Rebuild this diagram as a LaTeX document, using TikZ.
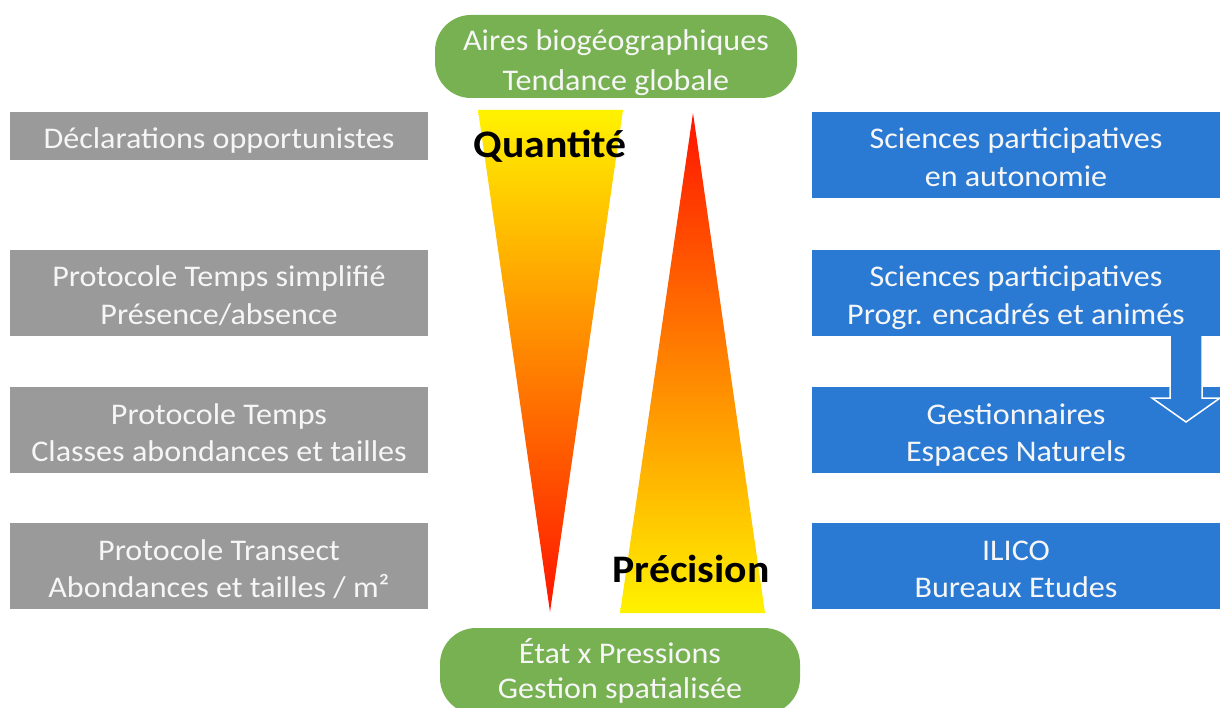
\documentclass[tikz,border=0pt]{standalone}
\usepackage{fontspec}
\setmainfont{Carlito}[FakeStretch=1.07]
\definecolor{boxgray}{RGB}{154,154,154}
\definecolor{boxblue}{RGB}{42,122,212}
\definecolor{boxgreen}{RGB}{119,177,82}
\definecolor{tyellow}{RGB}{255,242,0}
\definecolor{torange}{RGB}{255,165,0}
\definecolor{tred}{RGB}{255,20,0}
\definecolor{txtwhite}{RGB}{246,246,246}
\newcommand{\sA}{\rule[-6pt]{0pt}{37.5pt}}
\newcommand{\sT}{\rule[-3.5pt]{0pt}{37.5pt}}
\newcommand{\sB}{\rule[-8pt]{0pt}{35.5pt}}
\tikzset{
  basebox/.style={inner sep=0pt, align=center, text=txtwhite,
    font=\fontsize{30}{37.5}\selectfont},
  graybox/.style={basebox, fill=boxgray, minimum width=418pt},
  bluebox/.style={basebox, fill=boxblue, minimum width=408pt},
  greenbox/.style={basebox, fill=boxgreen, rounded corners=36pt},
  biglabel/.style={anchor=base, inner sep=0pt, text=black,
    font=\bfseries\fontsize{39}{40}\selectfont}
}
\begin{document}
\begin{tikzpicture}[x=1pt,y=-1pt]
\useasboundingbox (0,0) rectangle (1220,708);

% triangles
\shade[top color=tyellow, middle color=torange, bottom color=tred]
  (478,110) -- (623,110) -- (550,612) -- cycle;
\shade[top color=tred, middle color=torange, bottom color=tyellow]
  (693,113) -- (765,613) -- (620,613) -- cycle;

\node[biglabel] (quant) at (550,158) {Quantité};
\node[biglabel] (prec) at (691,582) {Précision};

% green boxes
\node[greenbox, minimum width=362pt, minimum height=83pt] (topg) at (616,56.5)
  {\sT Aires biogéographiques\\\sT Tendance globale};
\node[greenbox, minimum width=360pt, minimum height=86pt,
  font=\fontsize{30}{35.5}\selectfont] (botg) at (620,671)
  {\sB État x Pressions\\\sB Gestion spatialisée};

% gray boxes
\node[graybox, minimum height=48pt] (g1) at (219,136) {\sA Déclarations opportunistes};
\node[graybox, minimum height=86pt] (g2) at (219,293) {\sA Protocole Temps simplifié\\\sA Présence/absence};
\node[graybox, minimum height=86pt] (g3) at (219,430) {\sA Protocole Temps\\\sA Classes abondances et tailles};
\node[graybox, minimum height=86pt] (g4) at (219,566) {\sA Protocole Transect\\\sA Abondances et tailles / m²};

% blue boxes
\node[bluebox, minimum height=86pt] (b1) at (1016,155) {\sA Sciences participatives\\\sA en autonomie};
\node[bluebox, minimum height=86pt] (b3) at (1016,430) {\sA Gestionnaires\\\sA Espaces Naturels};
\node[bluebox, minimum height=86pt] (b4) at (1016,566) {\sA ILICO\\\sA Bureaux Etudes};

% block arrow
\draw[fill=boxblue, draw=white, line width=1.5pt, line join=miter]
  (1170,330) -- (1170,398) -- (1152,398) -- (1186,422) -- (1220,398)
  -- (1202,398) -- (1202,330) -- cycle;

\node[bluebox, minimum height=86pt] (b2) at (1016,293) {\sA Sciences participatives\\\sA Progr. encadrés et animés};
\end{tikzpicture}
\end{document}
